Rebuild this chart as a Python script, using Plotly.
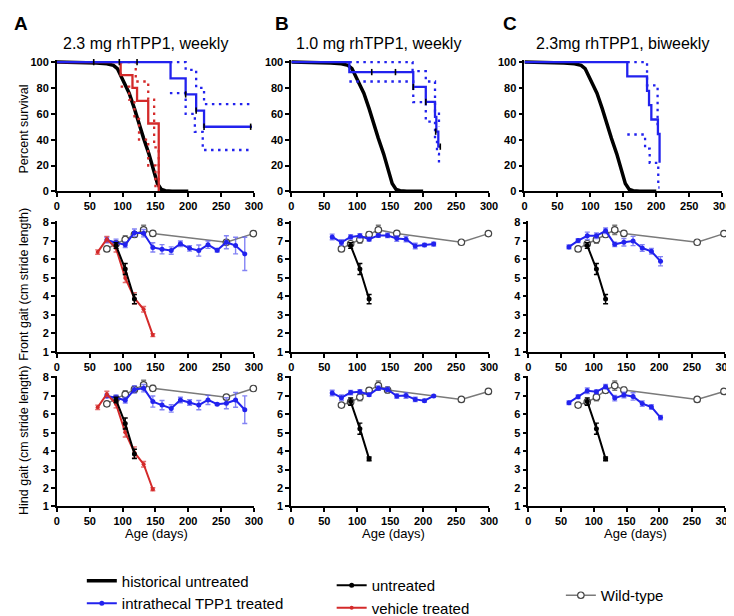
import plotly.graph_objects as go

W, H = 734, 616
FONT = "Liberation Sans"
BLUE = "#2222ee"
BLUE_ERR = "rgba(90,90,240,0.75)"
RED = "#d42a2a"
RED_ERR = "rgba(220,70,70,0.8)"
GREY = "#7a7a7a"

# ---------------- survival (Kaplan-Meier) ----------------
hist_age = [0, 40, 60, 76, 86, 92, 96, 103, 110, 118, 125, 132, 140, 147, 153, 159, 165, 175, 200]
hist_pct = [100, 99.8, 99.3, 98.7, 97.5, 95, 91, 84, 76, 64, 52, 41, 29, 16, 6, 1.5, 0.5, 0, 0]

veh_km_age = [0, 97, 115, 122, 139, 155]
veh_km_pct = [100, 90, 80, 70, 52.5, 0]
veh_hi_age = [97, 120, 139, 148, 155]
veh_hi_pct = [100, 85, 71, 34, 0]
veh_lo_age = [97, 110, 118, 125, 139, 150]
veh_lo_pct = [81, 71, 56, 40, 20, 0]

a_km_age = [0, 173, 196, 212, 224, 297]
a_km_pct = [100, 87.5, 75, 62.5, 50, 50]
a_hi_age = [172, 196, 212, 224, 297]
a_hi_pct = [100, 94, 80, 67.5, 67.5]
a_lo_age = [172, 196, 210, 222, 297]
a_lo_pct = [76, 60, 46, 32, 32]
a_cens_age = [56, 95, 122, 196, 212, 224, 295]
a_cens_pct = [100, 100, 100, 75, 62.5, 50, 50]

b_km_age = [0, 88, 185, 204, 218, 220, 223, 227]
b_km_pct = [100, 92.3, 80.8, 69.2, 57.7, 46.2, 34.6, 34.6]
b_hi_age = [88, 184, 204, 218, 224]
b_hi_pct = [100, 93, 85, 62, 50]
b_lo_age = [88, 185, 204, 218, 221, 224]
b_lo_pct = [85, 69, 54, 40, 29, 19]
b_cens_age = [122, 158, 185, 204, 219, 226]
b_cens_pct = [92.3, 92.3, 80.8, 69.2, 46.2, 34.6]

c_km_age = [0, 156, 186, 189, 192.5, 202.5, 205]
c_km_pct = [100, 88.9, 77.8, 66.7, 55.6, 44.4, 22.2]
c_hi_age = [156, 186, 202, 205]
c_hi_pct = [100, 82, 52, 52]
c_lo_age = [156, 183, 190, 203, 205]
c_lo_pct = [44, 33, 22, 3, 3]

# ---------------- gait ----------------
a_age = [76, 90, 104, 118, 132, 146, 160, 174, 188, 202, 216, 230, 244, 258, 272, 286]
a_front = [7.05, 6.9, 6.8, 7.45, 7.42, 6.65, 6.55, 6.48, 6.85, 6.6, 6.48, 6.8, 6.5, 6.93, 6.75, 6.3]
a_front_err = [0.15, 0.2, 0.15, 0.2, 0.2, 0.25, 0.25, 0.2, 0.15, 0.15, 0.3, 0.2, 0.1, 0.35, 0.45, 0.9]
a_hind = [6.99, 6.9, 6.76, 7.35, 7.42, 6.69, 6.5, 6.32, 6.78, 6.64, 6.5, 6.78, 6.55, 6.6, 6.78, 6.25]
a_hind_err = [0.1, 0.15, 0.15, 0.2, 0.2, 0.3, 0.25, 0.2, 0.15, 0.15, 0.25, 0.25, 0.05, 0.3, 0.4, 0.75]

b_age = [62, 76, 90, 104, 118, 132, 146, 160, 174, 188, 202, 216]
b_front = [7.22, 6.92, 7.22, 7.28, 7.1, 7.3, 7.3, 7.13, 7.1, 6.73, 6.78, 6.83]
b_front_err = [0.15, 0.15, 0.12, 0.12, 0.1, 0.1, 0.12, 0.15, 0.15, 0.15, 0.08, 0.1]
b_hind = [7.16, 6.9, 7.18, 7.22, 7.06, 7.42, 7.35, 6.99, 7.02, 6.81, 6.74, 7.0]
b_hind_err = [0.15, 0.15, 0.12, 0.12, 0.08, 0.12, 0.12, 0.12, 0.15, 0.12, 0.08, 0.05]

c_age = [62, 76, 90, 104, 118, 132, 146, 160, 174, 188, 202]
c_front = [6.68, 7.02, 7.28, 7.28, 7.55, 6.82, 6.93, 7.0, 6.62, 6.44, 5.9]
c_front_err = [0.1, 0.1, 0.2, 0.15, 0.15, 0.12, 0.2, 0.25, 0.18, 0.15, 0.25]
c_hind = [6.63, 6.95, 7.28, 7.22, 7.5, 6.88, 7.05, 6.97, 6.58, 6.4, 5.82]
c_hind_err = [0.1, 0.1, 0.15, 0.1, 0.12, 0.15, 0.15, 0.2, 0.15, 0.12, 0.12]

unt_age = [90, 104, 118]
unt_front = [6.75, 5.48, 3.85]
unt_front_err = [0.15, 0.3, 0.25]
unt_hind_a = [6.78, 5.5, 3.85]
unt_hind = [6.69, 5.22, 3.58]
unt_hind_err = [0.2, 0.3, 0.1]

veh_age = [62, 76, 90, 104, 118, 132, 146]
veh_front = [6.4, 7.1, 6.6, 5.0, 3.9, 3.3, 1.9]
veh_hind = [6.38, 7.1, 6.55, 5.02, 3.93, 3.29, 1.93]
veh_err = [0.12, 0.15, 0.2, 0.25, 0.3, 0.15, 0.08]

wt_age = [76, 90, 104, 118, 132, 146, 258, 299]
wt_age_b_front = [76, 90, 104, 118, 132, 160, 258, 299]
wt_front = [6.57, 6.85, 7.08, 7.35, 7.6, 7.41, 6.93, 7.4]
wt_hind = [6.5, 6.67, 6.93, 7.3, 7.56, 7.32, 6.81, 7.24]
wt_err = [0.08, 0.1, 0.2, 0.15, 0.25, 0.15, 0.1, 0.1]

x_ticks = [0, 50, 100, 150, 200, 250, 300]

fig = go.Figure()


def ax(idx):
    return ("x" if idx == 1 else f"x{idx}"), ("y" if idx == 1 else f"y{idx}")


def km(idx, x, y, color, width=2.3, dash=None):
    xa, ya = ax(idx)
    fig.add_trace(go.Scatter(x=x, y=y, mode="lines", xaxis=xa, yaxis=ya,
                             line=dict(color=color, width=width, shape="hv", dash=dash),
                             showlegend=False, hoverinfo="skip"))


def gait(idx, x, y, err, color, err_color, size=5, legend=None, name=None, wt=False, rank=None):
    xa, ya = ax(idx)
    marker = dict(color="white", size=6.5, line=dict(color="#444444", width=1.2)) if wt \
        else dict(color=color, size=size)
    fig.add_trace(go.Scatter(
        x=x, y=y, mode="lines+markers", xaxis=xa, yaxis=ya, cliponaxis=False,
        line=dict(color=color, width=1.5 if wt else 2), marker=marker,
        error_y=dict(type="data", array=err, color=err_color, thickness=1.4, width=2.5),
        name=name, showlegend=legend is not None, legend=legend or "legend",
        legendrank=rank, hoverinfo="skip"))


DOT = "2.5px,4.5px"

# survival row (axes 1..3)
for idx in (1, 2, 3):
    xa, ya = ax(idx)
    fig.add_trace(go.Scatter(x=hist_age, y=hist_pct, mode="lines", xaxis=xa, yaxis=ya,
                             line=dict(color="black", width=3.5),
                             name="historical untreated", showlegend=(idx == 1),
                             legend="legend", legendrank=1, hoverinfo="skip"))

km(1, veh_hi_age, veh_hi_pct, RED, dash=DOT)
km(1, veh_lo_age, veh_lo_pct, RED, dash=DOT)
km(1, veh_km_age, veh_km_pct, RED)
km(1, a_hi_age, a_hi_pct, BLUE, dash=DOT)
km(1, a_lo_age, a_lo_pct, BLUE, dash=DOT)
km(1, a_km_age, a_km_pct, BLUE)
km(2, b_hi_age, b_hi_pct, BLUE, dash=DOT)
km(2, b_lo_age, b_lo_pct, BLUE, dash=DOT)
km(2, b_km_age, b_km_pct, BLUE)
km(3, c_hi_age, c_hi_pct, BLUE, dash=DOT)
km(3, c_lo_age, c_lo_pct, BLUE, dash=DOT)
km(3, c_km_age, c_km_pct, BLUE)

# censor ticks
for idx, cx, cy in ((1, a_cens_age, a_cens_pct), (2, b_cens_age, b_cens_pct)):
    xa, ya = ax(idx)
    fig.add_trace(go.Scatter(x=cx, y=cy, mode="markers", xaxis=xa, yaxis=ya, cliponaxis=False,
                             marker=dict(symbol="line-ns-open", size=4.5, color="black",
                                         line=dict(color="black", width=1.6)),
                             showlegend=False, hoverinfo="skip"))

# front gait row (axes 4..6)
gait(4, wt_age, wt_front, wt_err, GREY, GREY, wt=True, legend="legend3", name="Wild-type", rank=5)
gait(4, a_age, a_front, a_front_err, BLUE, BLUE_ERR, legend="legend", name="intrathecal TPP1 treated", rank=2)
gait(4, veh_age, veh_front, veh_err, RED, RED_ERR, size=4, legend="legend2", name="vehicle treated", rank=4)
gait(4, unt_age, unt_front, unt_front_err, "black", "black", legend="legend2", name="untreated", rank=3)

gait(5, wt_age_b_front, wt_front, wt_err, GREY, GREY, wt=True)
gait(5, b_age, b_front, b_front_err, BLUE, BLUE_ERR)
gait(5, unt_age, unt_front, unt_front_err, "black", "black")

gait(6, wt_age, wt_front, wt_err, GREY, GREY, wt=True)
gait(6, c_age, c_front, c_front_err, BLUE, BLUE_ERR)
gait(6, unt_age, unt_front, unt_front_err, "black", "black")

# hind gait row (axes 7..9)
gait(7, wt_age, wt_front, wt_err, GREY, GREY, wt=True)
gait(7, a_age, a_hind, a_hind_err, BLUE, BLUE_ERR)
gait(7, veh_age, veh_hind, veh_err, RED, RED_ERR, size=4)
gait(7, unt_age, unt_hind_a, unt_front_err, "black", "black")

gait(8, wt_age, wt_hind, wt_err, GREY, GREY, wt=True)
gait(8, b_age, b_hind, b_hind_err, BLUE, BLUE_ERR)
gait(8, unt_age, unt_hind, unt_hind_err, "black", "black")

gait(9, wt_age, wt_hind, wt_err, GREY, GREY, wt=True)
gait(9, c_age, c_hind, c_hind_err, BLUE, BLUE_ERR)
gait(9, unt_age, unt_hind, unt_hind_err, "black", "black")

# ---------------- layout ----------------
cols_top = [(46.7, 247), (285, 486), (522, 723)]
cols_gait = [(46.7, 247), (285, 486), (526, 725.5)]
rows = [(49.3, 186), (216.4, 352.3), (377.1, 512.7)]

tick_font = dict(family=FONT, size=11, color="black", weight="bold")
layout_axes = {}
for r in range(3):
    for c in range(3):
        idx = r * 3 + c + 1
        x0, x1 = (cols_top if r == 0 else cols_gait)[c]
        y0, y1 = rows[r]
        common = dict(showline=True, linecolor="black", linewidth=1.8, ticks="outside",
                      ticklen=4, tickwidth=1.8, tickcolor="black", showgrid=False,
                      zeroline=False, tickfont=tick_font, fixedrange=True)
        layout_axes["xaxis" if idx == 1 else f"xaxis{idx}"] = dict(
            domain=[x0 / W, x1 / W], range=[0, 300], tickvals=x_ticks,
            anchor="y" if idx == 1 else f"y{idx}", **common)
        if r == 0:
            yr, yt = [0, 102], [0, 20, 40, 60, 80, 100]
        else:
            yr, yt = [1, 8.1], [1, 2, 3, 4, 5, 6, 7, 8]
        layout_axes["yaxis" if idx == 1 else f"yaxis{idx}"] = dict(
            domain=[1 - y1 / H, 1 - y0 / H], range=yr, tickvals=yt,
            anchor="x" if idx == 1 else f"x{idx}", **common)

ann = []
for txt, x, y in (("A", 10, 12), ("B", 275, 12), ("C", 507, 12)):
    ann.append(dict(text=f"<b>{txt}</b>", x=x / W, y=1 - y / H, font=dict(family=FONT, size=19, color="black")))
for txt, x in (("2.3 mg rhTPP1, weekly", 137), ("1.0 mg rhTPP1, weekly", 374), ("2.3mg rhTPP1, biweekly", 622)):
    ann.append(dict(text=txt, x=x / W, y=1 - 33 / H, font=dict(family=FONT, size=16, color="black")))
for txt, y in (("Percent survival", 121), ("Front gait (cm stride length)", 282), ("Hind gait (cm stride length)", 444)):
    ann.append(dict(text=txt, x=13 / W, y=1 - y / H, textangle=-90, font=dict(family=FONT, size=12.5, color="black")))
for x in (147.5, 389, 635):
    ann.append(dict(text="Age (days)", x=x / W, y=1 - 541 / H, font=dict(family=FONT, size=13, color="black")))
for a in ann:
    a.update(xref="paper", yref="paper", showarrow=False, xanchor="center", yanchor="middle")

leg_common = dict(font=dict(family=FONT, size=15, color="black"), bgcolor="rgba(0,0,0,0)",
                  itemwidth=30, tracegroupgap=0, xanchor="left", yanchor="top",
                  itemclick=False, itemdoubleclick=False)

fig.update_layout(
    width=W, height=H, margin=dict(l=0, r=0, t=0, b=0),
    paper_bgcolor="white", plot_bgcolor="white",
    annotations=ann,
    legend=dict(x=72 / W, y=1 - 573 / H, **leg_common),
    legend2=dict(x=326 / W, y=1 - 578 / H, **leg_common),
    legend3=dict(x=559 / W, y=1 - 588 / H, **leg_common),
    **layout_axes,
)

fig.write_html("out.html")
